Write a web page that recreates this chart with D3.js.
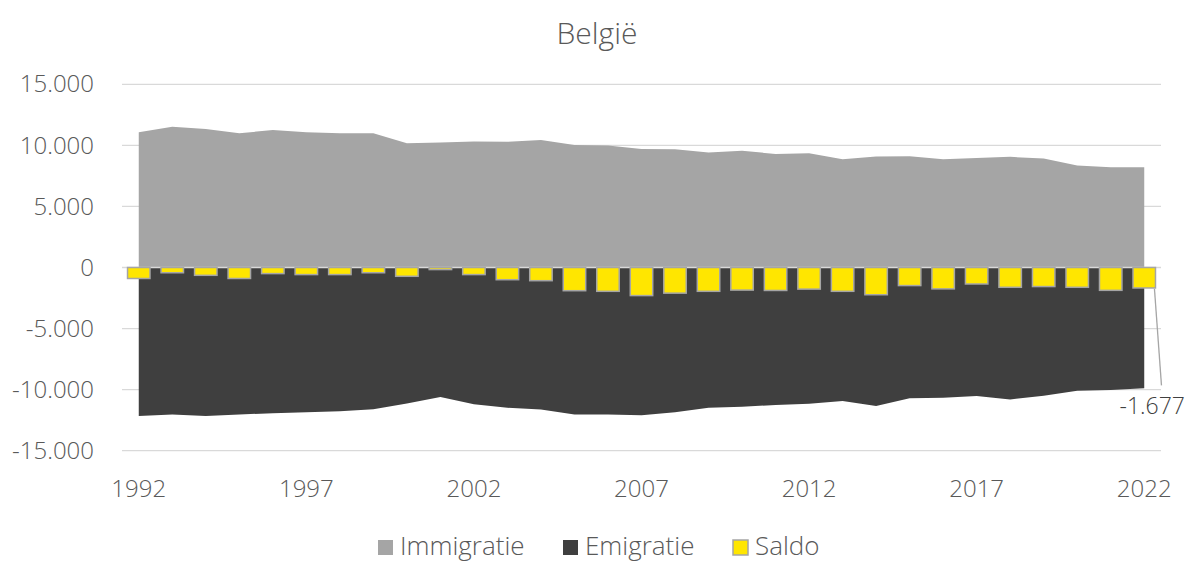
<!DOCTYPE html>
<html>
<head>
<meta charset="utf-8">
<script src="https://cdn.jsdelivr.net/npm/d3@7"></script>
<style>
  body { margin: 0; background: #fff; }
  text { font-family: "Open Sans", "Noto Sans", sans-serif; font-weight: 300; }
</style>
</head>
<body>
<div class="canvas"></div>
<script>
const years = d3.range(1992, 2023);
const immigratie = [11080, 11520, 11350, 11000, 11250, 11080, 11000, 11000, 10180, 10230,
  10310, 10290, 10430, 10020, 9980, 9710, 9690, 9410, 9550, 9300,
  9360, 8870, 9080, 9110, 8870, 8975, 9060, 8920, 8345, 8210, 8210];
const emigratie = [-12150, -12030, -12150, -12030, -11930, -11850, -11760, -11600, -11130, -10610,
  -11190, -11490, -11620, -12030, -12030, -12090, -11850, -11490, -11410, -11250,
  -11160, -10940, -11350, -10700, -10670, -10530, -10800, -10510, -10100, -10040, -9890];
const saldo = [-900, -430, -640, -900, -500, -580, -580, -430, -720, -170,
  -580, -1000, -1080, -1900, -1950, -2300, -2100, -1950, -1850, -1880,
  -1770, -1950, -2230, -1480, -1750, -1350, -1620, -1560, -1620, -1870, -1677];
const yTicks = [-15000, -10000, -5000, 0, 5000, 10000, 15000];
const labelYears = [1992, 1997, 2002, 2007, 2012, 2017, 2022];
const legendItems = ['Immigratie', 'Emigratie', 'Saldo'];

const width = 1186, height = 562;
const margin = { top: 84.3, right: 25, bottom: 111.3, left: 122 };
const textColor = '#595959';
const colors = { Immigratie: '#a5a5a5', Emigratie: '#3f3f3f', Saldo: '#ffe600' };

const svg = d3.select('.canvas').append('svg')
  .attr('width', width)
  .attr('height', height);

const x = d3.scaleBand()
  .domain(years)
  .range([margin.left, width - margin.right]);

const y = d3.scaleLinear()
  .domain([-15000, 15000])
  .range([height - margin.bottom, margin.top]);

const cx = d => x(d) + x.bandwidth() / 2;
const fmt = v => d3.format(',')(v).replace(/,/g, '.').replace('−', '-');

// gridlines
svg.append('g')
  .selectAll('line')
  .data(yTicks.filter(t => t !== 0))
  .enter().append('line')
  .attr('x1', margin.left)
  .attr('x2', width - margin.right)
  .attr('y1', d => y(d))
  .attr('y2', d => y(d))
  .attr('stroke', '#d9d9d9')
  .attr('stroke-width', 1.3);

// areas
const areaUp = d3.area()
  .x((d, i) => cx(years[i]))
  .y0(y(0))
  .y1(d => y(d));

svg.append('path')
  .datum(immigratie)
  .attr('d', areaUp)
  .attr('fill', colors.Immigratie);

svg.append('path')
  .datum(emigratie)
  .attr('d', areaUp)
  .attr('fill', colors.Emigratie);

// zero axis line
svg.append('line')
  .attr('x1', margin.left)
  .attr('x2', width - margin.right)
  .attr('y1', y(0))
  .attr('y2', y(0))
  .attr('stroke', '#d9d9d9')
  .attr('stroke-width', 1.3);

// saldo bars
const barW = x.bandwidth() * 0.67;
svg.append('g')
  .selectAll('rect')
  .data(saldo)
  .enter().append('rect')
  .attr('x', (d, i) => cx(years[i]) - barW / 2)
  .attr('y', y(0))
  .attr('width', barW)
  .attr('height', d => y(d) - y(0))
  .attr('fill', colors.Saldo)
  .attr('stroke', '#a5a5a5')
  .attr('stroke-width', 1.5);

// y axis labels
const yAxis = d3.axisLeft(y)
  .tickValues(yTicks)
  .tickSize(0)
  .tickPadding(28)
  .tickFormat(fmt);
const yAxisGroup = svg.append('g')
  .attr('transform', `translate(${margin.left}, 0)`)
  .call(yAxis);
yAxisGroup.select('.domain').remove();
yAxisGroup.selectAll('text')
  .attr('fill', textColor)
  .style('font-size', '24px');

// x axis labels
const xAxis = d3.axisBottom(x)
  .tickValues(labelYears)
  .tickSize(0)
  .tickPadding(0);
const xAxisGroup = svg.append('g')
  .attr('transform', `translate(0, ${height - margin.bottom + 29})`)
  .call(xAxis);
xAxisGroup.select('.domain').remove();
xAxisGroup.selectAll('text')
  .attr('fill', textColor)
  .style('font-size', '24px');

// data label for last saldo
const last = saldo.length - 1;
const lx = cx(years[last]);
svg.append('line')
  .attr('x1', lx + barW / 2 - 1)
  .attr('y1', y(saldo[last]) + 1)
  .attr('x2', lx + barW / 2 + 6)
  .attr('y2', y(-9650))
  .attr('stroke', '#a5a5a5')
  .attr('stroke-width', 1.3);
svg.append('text')
  .attr('x', lx + 8)
  .attr('y', y(-12000))
  .attr('text-anchor', 'middle')
  .attr('fill', '#404040')
  .style('font-size', '23px')
  .text(fmt(saldo[last]));

// title
svg.append('text')
  .attr('x', 597)
  .attr('y', 44)
  .attr('text-anchor', 'middle')
  .attr('fill', textColor)
  .style('font-size', '30px')
  .text('België');

// legend
const legendX = [378, 563, 733];
const legend = svg.append('g')
  .selectAll('g')
  .data(legendItems)
  .enter().append('g')
  .attr('transform', (d, i) => `translate(${legendX[i]}, 540)`);
legend.append('rect')
  .attr('width', 15)
  .attr('height', 15)
  .attr('fill', d => colors[d])
  .attr('stroke', d => d === 'Saldo' ? '#a5a5a5' : 'none')
  .attr('stroke-width', 1.5);
legend.append('text')
  .attr('x', 22)
  .attr('y', 15)
  .attr('fill', textColor)
  .style('font-size', '26px')
  .text(d => d);
</script>
</body>
</html>
